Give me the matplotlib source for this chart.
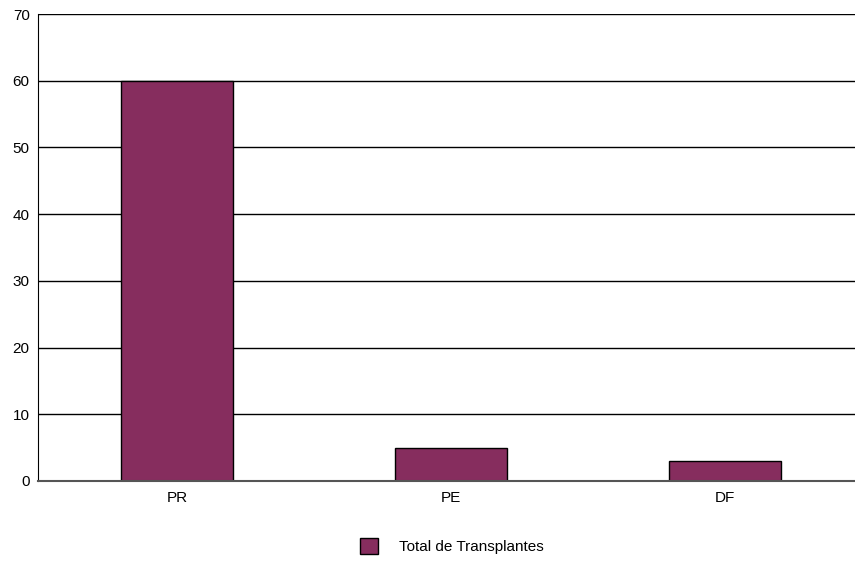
import matplotlib.pyplot as plt
from matplotlib.patches import Patch

# dados
estados = ["PR", "PE", "DF"]
total_transplantes = [60, 5, 3]
y_ticks = [0, 10, 20, 30, 40, 50, 60, 70]

plt.rcParams['font.family'] = ['Liberation Sans Narrow', 'Liberation Sans', 'DejaVu Sans']

fig = plt.figure(figsize=(8.55, 5.62), dpi=100)
ax = fig.add_axes([38/855, 1 - 481/562, 1 - 38/855, (481 - 14)/562])

x = range(len(estados))
ax.bar(x, total_transplantes, width=0.41, color="#862D5E", edgecolor="black",
       linewidth=1, zorder=3)

ax.set_ylim(0, 70)
ax.set_xlim(-0.507, 2.474)
ax.set_yticks(y_ticks)
ax.set_xticks(list(x))
ax.set_xticklabels(estados)
ax.tick_params(axis='both', length=0, labelsize=11)
ax.tick_params(axis='y', pad=6)
ax.tick_params(axis='x', pad=7)

ax.yaxis.grid(True, color="black", linewidth=1)
ax.set_axisbelow(True)
for s in ["top", "right"]:
    ax.spines[s].set_visible(False)
ax.spines["left"].set_color("black")
ax.spines["bottom"].set_color("#555555")
ax.spines["bottom"].set_linewidth(1.5)
ax.spines["bottom"].set_zorder(4)

handles = [Patch(facecolor="#862D5E", edgecolor="black", label="Total de Transplantes")]
fig.legend(handles=handles, loc="center", bbox_to_anchor=(452/855, 1 - 546/562),
           frameon=False, fontsize=11, handlelength=1.2, handleheight=1.2,
           handletextpad=1.4)

fig.savefig("out.png", dpi=100)
